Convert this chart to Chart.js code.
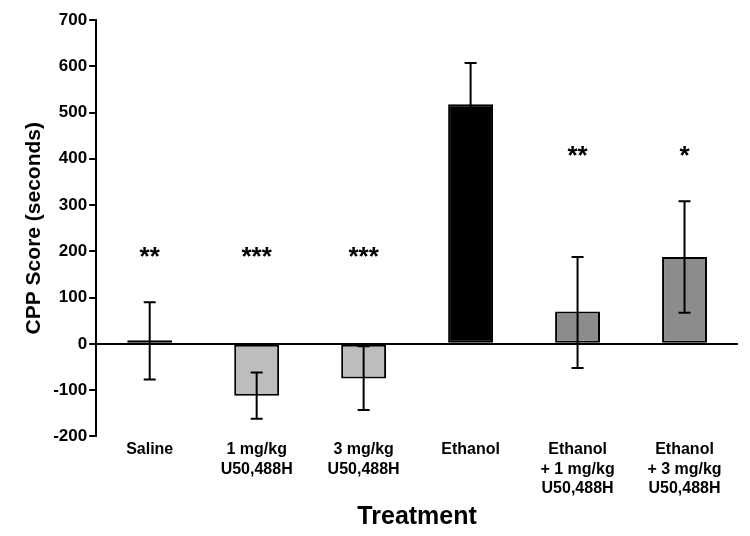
<!DOCTYPE html>
<html>
<head>
<script src="https://cdn.jsdelivr.net/npm/chart.js@4"></script>
<style>
  body { margin: 0; background: #fff; }
  #wrap { width: 750px; height: 536px; }
</style>
</head>
<body>
<div id="wrap"><canvas id="cpp"></canvas></div>
<script>
const labels = [
  ['Saline'],
  ['1 mg/kg', 'U50,488H'],
  ['3 mg/kg', 'U50,488H'],
  ['Ethanol'],
  ['Ethanol', '+ 1 mg/kg', 'U50,488H'],
  ['Ethanol', '+ 3 mg/kg', 'U50,488H']
];
const means = [8, -112, -75, 518, 70, 188];
const errUpper = [90, -62, -5, 607, 188, 308];
const errLower = [-77, -162, -143, 430, -52, 67];
const stars = ['**', '***', '***', '', '**', '*'];
const starLevel = [185, 185, 185, 0, 405, 405];
const barColors = ['#bdbdbd', '#bdbdbd', '#bdbdbd', '#000000', '#8c8c8c', '#8c8c8c'];

const FONT = 'Liberation Sans, Arial, sans-serif';

// error bars and significance marks
const extras = {
  id: 'extras',
  afterDatasetsDraw(chart) {
    const { ctx, scales: { x, y } } = chart;
    ctx.save();
    ctx.strokeStyle = '#000';
    ctx.lineWidth = 2;
    means.forEach((m, i) => {
      const cx = x.getPixelForValue(i);
      const yt = y.getPixelForValue(errUpper[i]);
      const yb = y.getPixelForValue(errLower[i]);
      ctx.beginPath();
      ctx.moveTo(cx, yt); ctx.lineTo(cx, yb);
      ctx.moveTo(cx - 6, yt); ctx.lineTo(cx + 6, yt);
      ctx.moveTo(cx - 6, yb); ctx.lineTo(cx + 6, yb);
      ctx.stroke();
      if (stars[i]) {
        ctx.fillStyle = '#000';
        ctx.font = 'bold 26px ' + FONT;
        ctx.textAlign = 'center';
        ctx.textBaseline = 'middle';
        ctx.fillText(stars[i], cx, y.getPixelForValue(starLevel[i]));
      }
    });
    ctx.restore();
  }
};

new Chart(document.getElementById('cpp'), {
  type: 'bar',
  data: {
    labels: labels,
    datasets: [{
      data: means,
      backgroundColor: barColors,
      borderColor: '#000',
      borderWidth: 2,
      borderSkipped: false,
      barPercentage: 0.42,
      categoryPercentage: 1
    }]
  },
  options: {
    responsive: true,
    maintainAspectRatio: false,
    animation: false,
    layout: { padding: { top: 20, right: 12, left: 18, bottom: 4 } },
    plugins: { legend: { display: false }, tooltip: { enabled: false } },
    scales: {
      x: {
        grid: { display: false, drawTicks: false },
        border: { display: false },
        ticks: { color: '#000', font: { family: FONT, size: 16, weight: 'bold' }, maxRotation: 0, autoSkip: false, padding: 4 },
        title: { display: true, text: 'Treatment', color: '#000', font: { family: FONT, size: 25, weight: 'bold' }, padding: { top: 0, bottom: 0 } }
      },
      y: {
        min: -200, max: 700,
        grid: {
          drawOnChartArea: true,
          color: ctx => ctx.tick && ctx.tick.value === 0 ? '#000' : 'rgba(0,0,0,0)',
          lineWidth: 2,
          tickColor: '#000',
          tickLength: 7
        },
        border: { display: true, color: '#000', width: 2 },
        ticks: { stepSize: 100, color: '#000', font: { family: FONT, size: 17, weight: 'bold' }, padding: 2 },
        title: { display: true, text: 'CPP Score (seconds)', color: '#000', font: { family: FONT, size: 21, weight: 'bold' } }
      }
    }
  },
  plugins: [extras]
});
</script>
</body>
</html>
